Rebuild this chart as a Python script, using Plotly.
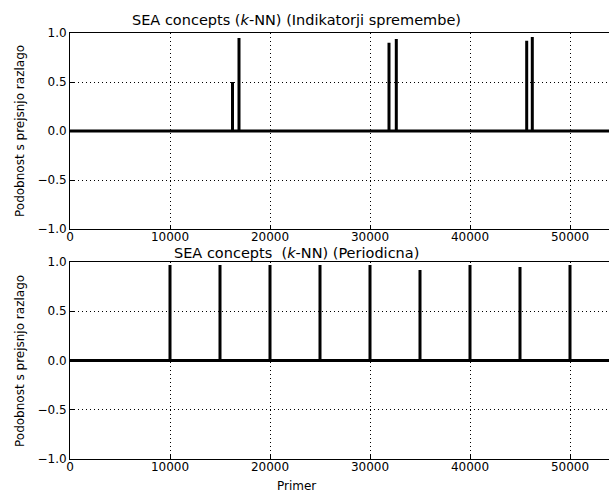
import plotly.graph_objects as go

# ---- data ----
X_MAX = 53900
top_spike_x = [16250, 16900, 31900, 32630, 45670, 46230]
top_spike_y = [0.50, 0.95, 0.90, 0.94, 0.92, 0.96]
bot_spike_x = [10000, 15000, 20000, 25000, 30000, 35000, 40000, 45000, 50000]
bot_spike_y = [0.97, 0.97, 0.97, 0.97, 0.97, 0.92, 0.97, 0.95, 0.97]
x_ticks = [0, 10000, 20000, 30000, 40000, 50000]
y_ticks = [-1.0, -0.5, 0.0, 0.5, 1.0]
title_top = "SEA concepts (<i>k</i>-NN) (Indikatorji spremembe)"
title_bot = "SEA concepts  (<i>k</i>-NN) (Periodicna)"
y_label = "Podobnost s prejsnjo razlago"
x_label = "Primer"


def spike_series(xs, ys, xmax):
    px, py = [0], [0]
    for x, y in zip(xs, ys):
        px += [x, x, x]
        py += [0, y, 0]
    px.append(xmax)
    py.append(0)
    return px, py


H = 493
W = 609
L = 70
FONT = "DejaVu Sans"

fig = go.Figure()
tx, ty = spike_series(top_spike_x, top_spike_y, X_MAX)
bx, by = spike_series(bot_spike_x, bot_spike_y, X_MAX)
fig.add_trace(go.Scatter(x=tx, y=ty, mode="lines", line=dict(color="black", width=3),
                         xaxis="x", yaxis="y", showlegend=False, hoverinfo="skip"))
fig.add_trace(go.Scatter(x=bx, y=by, mode="lines", line=dict(color="black", width=3),
                         xaxis="x2", yaxis="y2", showlegend=False, hoverinfo="skip"))

def dom(top_px, bot_px):
    return [1 - bot_px / H, 1 - top_px / H]

DOT = "1px,3px"
xcommon = dict(range=[0, X_MAX], tickvals=x_ticks, ticktext=[str(v) for v in x_ticks],
               showgrid=True, gridcolor="black", gridwidth=1, griddash=DOT,
               showline=True, linecolor="black", linewidth=1, mirror=True,
               ticks="inside", ticklen=4, tickcolor="black", zeroline=False,
               automargin=False, ticklabelstandoff=-3,
               tickfont=dict(family=FONT, size=12, color="black"), domain=[0, 1])
ycommon = dict(range=[-1, 1], tickvals=y_ticks, tickformat=".1f",
               showgrid=True, gridcolor="black", gridwidth=1, griddash=DOT,
               showline=True, linecolor="black", linewidth=1, mirror=False,
               ticks="inside", ticklen=4, tickcolor="black", zeroline=False,
               automargin=False,
               tickfont=dict(family=FONT, size=12, color="black"))

fig.update_layout(
    width=W, height=H,
    margin=dict(l=L, r=0, t=0, b=0),
    paper_bgcolor="white", plot_bgcolor="white",
    font=dict(family=FONT, color="black"),
    xaxis=dict(**xcommon, anchor="y"),
    yaxis=dict(**ycommon, domain=dom(33, 229), anchor="x"),
    xaxis2=dict(**xcommon, anchor="y2"),
    yaxis2=dict(**ycommon, domain=dom(262, 459), anchor="x2"),
)

plot_w = W - L
cx = (296 - L) / plot_w
for text, ypx in [(title_top, 20), (title_bot, 253)]:
    fig.add_annotation(text=text, xref="paper", yref="paper", x=cx, y=1 - ypx / H,
                       xanchor="center", yanchor="middle", showarrow=False,
                       font=dict(family=FONT, size=14.5, color="black"))
for ypx in [131, 361]:
    fig.add_annotation(text=y_label, xref="paper", yref="paper", x=(20 - L) / plot_w,
                       y=1 - ypx / H, xanchor="center", yanchor="middle", textangle=-90,
                       showarrow=False, font=dict(family=FONT, size=12, color="black"))
fig.add_annotation(text=x_label, xref="paper", yref="paper", x=cx, y=1 - 486 / H,
                   xanchor="center", yanchor="middle", showarrow=False,
                   font=dict(family=FONT, size=12, color="black"))

fig.write_html("out.html")
